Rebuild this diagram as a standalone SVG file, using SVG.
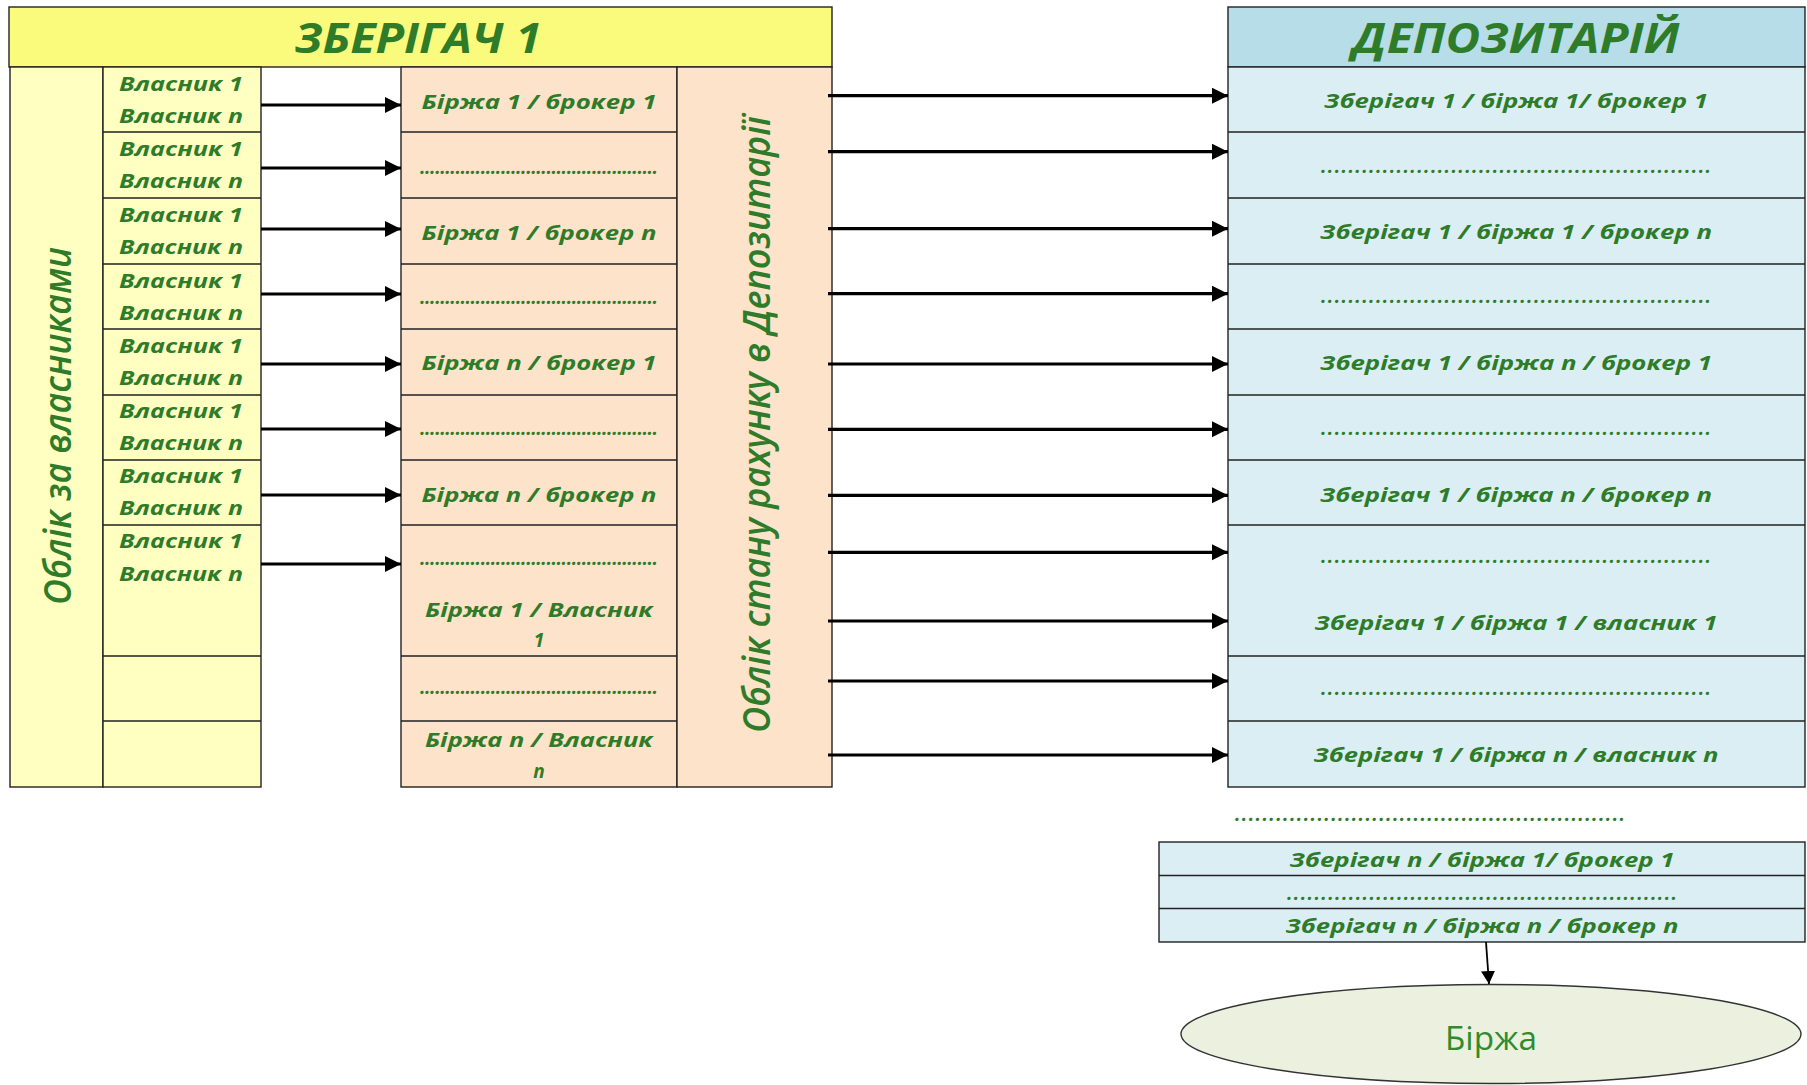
<svg xmlns="http://www.w3.org/2000/svg" width="1807" height="1085" viewBox="0 0 1807 1085">
<style>
.b{stroke:#222;stroke-width:1.4}
.t{font-family:"Open Sans","DejaVu Sans",sans-serif;font-style:italic;font-weight:bold;fill:#2E7B2A}
.c{font-size:19px}
.m{text-anchor:middle}
.h{font-size:42px}
.v{font-size:38px;font-weight:600}
.y1{fill:#FAFA7D}
.y2{fill:#FFFFC1}
.p{fill:#FDE3C9}
.bh{fill:#B7DDE8}
.bl{fill:#DAEEF3}
.a{stroke:#000;stroke-width:3.2;fill:none}
</style>
<defs>
<marker id="ah" markerUnits="userSpaceOnUse" markerWidth="18" markerHeight="18" refX="16" refY="8" orient="auto">
<path d="M0,0 L16,8 L0,16 Z" fill="#000"/>
</marker>
<marker id="ah2" markerUnits="userSpaceOnUse" markerWidth="15" markerHeight="15" refX="13" refY="7" orient="auto">
<path d="M0,0 L13,7 L0,14 Z" fill="#000"/>
</marker>
</defs>
<rect width="1807" height="1085" fill="#fff"/>

<g id="zberigach-header">
<rect class="y1 b" x="9" y="7" width="823" height="60"/>
<text class="t h m" x="418" y="53" textLength="247" lengthAdjust="spacingAndGlyphs">ЗБЕРІГАЧ 1</text>
</g>

<g id="oblik-vlasnyky">
<rect class="y2 b" x="10" y="67" width="93" height="720"/>
<text class="t v m" transform="translate(71,426) rotate(-90)" textLength="358" lengthAdjust="spacingAndGlyphs">Облік за власниками</text>
</g>

<g id="vlasnyky">
<rect class="y2 b" x="103" y="67" width="158" height="720"/>
<path class="b" d="M103,132H261M103,198H261M103,264H261M103,329H261M103,395H261M103,460H261M103,525H261M103,656H261M103,721H261"/>
<g class="t c">
<text x="119" y="91" textLength="124" lengthAdjust="spacingAndGlyphs">Власник 1</text>
<text x="119" y="123" textLength="124" lengthAdjust="spacingAndGlyphs">Власник n</text>
<text x="119" y="156" textLength="124" lengthAdjust="spacingAndGlyphs">Власник 1</text>
<text x="119" y="188" textLength="124" lengthAdjust="spacingAndGlyphs">Власник n</text>
<text x="119" y="222" textLength="124" lengthAdjust="spacingAndGlyphs">Власник 1</text>
<text x="119" y="254" textLength="124" lengthAdjust="spacingAndGlyphs">Власник n</text>
<text x="119" y="288" textLength="124" lengthAdjust="spacingAndGlyphs">Власник 1</text>
<text x="119" y="320" textLength="124" lengthAdjust="spacingAndGlyphs">Власник n</text>
<text x="119" y="353" textLength="124" lengthAdjust="spacingAndGlyphs">Власник 1</text>
<text x="119" y="385" textLength="124" lengthAdjust="spacingAndGlyphs">Власник n</text>
<text x="119" y="418" textLength="124" lengthAdjust="spacingAndGlyphs">Власник 1</text>
<text x="119" y="450" textLength="124" lengthAdjust="spacingAndGlyphs">Власник n</text>
<text x="119" y="483" textLength="124" lengthAdjust="spacingAndGlyphs">Власник 1</text>
<text x="119" y="515" textLength="124" lengthAdjust="spacingAndGlyphs">Власник n</text>
<text x="119" y="548" textLength="124" lengthAdjust="spacingAndGlyphs">Власник 1</text>
<text x="119" y="581" textLength="124" lengthAdjust="spacingAndGlyphs">Власник n</text>
</g>
</g>

<g id="birzha-broker">
<rect class="p b" x="401" y="67" width="276" height="720"/>
<path class="b" d="M401,132H677M401,198H677M401,264H677M401,329H677M401,395H677M401,460H677M401,525H677M401,656H677M401,721H677"/>
<g class="t c m">
<text x="539" y="109" textLength="235" lengthAdjust="spacingAndGlyphs">Біржа 1 / брокер 1</text>
<text x="539" y="174" textLength="238" lengthAdjust="spacing">...............................................</text>
<text x="539" y="240" textLength="235" lengthAdjust="spacingAndGlyphs">Біржа 1 / брокер n</text>
<text x="539" y="304" textLength="238" lengthAdjust="spacing">...............................................</text>
<text x="539" y="370" textLength="235" lengthAdjust="spacingAndGlyphs">Біржа n / брокер 1</text>
<text x="539" y="435" textLength="238" lengthAdjust="spacing">...............................................</text>
<text x="539" y="502" textLength="235" lengthAdjust="spacingAndGlyphs">Біржа n / брокер n</text>
<text x="539" y="565" textLength="238" lengthAdjust="spacing">...............................................</text>
<text x="539" y="617" textLength="228" lengthAdjust="spacingAndGlyphs">Біржа 1 / Власник</text>
<text x="539" y="647">1</text>
<text x="539" y="694" textLength="238" lengthAdjust="spacing">...............................................</text>
<text x="539" y="747" textLength="228" lengthAdjust="spacingAndGlyphs">Біржа n / Власник</text>
<text x="539" y="778">n</text>
</g>
</g>

<g id="oblik-stanu">
<rect class="p b" x="677" y="67" width="155" height="720"/>
<text class="t v m" transform="translate(770,424.5) rotate(-90)" textLength="617" lengthAdjust="spacingAndGlyphs">Облік стану рахунку в Депозитарії</text>
</g>

<g id="depozytarii">
<rect class="bh b" x="1228" y="7" width="577" height="60"/>
<text class="t h m" x="1516" y="53" textLength="327" lengthAdjust="spacingAndGlyphs">ДЕПОЗИТАРІЙ</text>
<rect class="bl b" x="1228" y="67" width="577" height="720"/>
<path class="b" d="M1228,132H1805M1228,198H1805M1228,264H1805M1228,329H1805M1228,395H1805M1228,460H1805M1228,525H1805M1228,656H1805M1228,721H1805"/>
<g class="t c m">
<text x="1516" y="108" textLength="384" lengthAdjust="spacingAndGlyphs">Зберігач 1 / біржа 1/ брокер 1</text>
<text x="1516" y="173" textLength="390" lengthAdjust="spacing">.........................................................</text>
<text x="1516" y="239" textLength="392" lengthAdjust="spacingAndGlyphs">Зберігач 1 / біржа 1 / брокер n</text>
<text x="1516" y="303" textLength="390" lengthAdjust="spacing">.........................................................</text>
<text x="1516" y="370" textLength="392" lengthAdjust="spacingAndGlyphs">Зберігач 1 / біржа n / брокер 1</text>
<text x="1516" y="435" textLength="390" lengthAdjust="spacing">.........................................................</text>
<text x="1516" y="502" textLength="392" lengthAdjust="spacingAndGlyphs">Зберігач 1 / біржа n / брокер n</text>
<text x="1516" y="563" textLength="390" lengthAdjust="spacing">.........................................................</text>
<text x="1516" y="630" textLength="403" lengthAdjust="spacingAndGlyphs">Зберігач 1 / біржа 1 / власник 1</text>
<text x="1516" y="695" textLength="390" lengthAdjust="spacing">.........................................................</text>
<text x="1516" y="762" textLength="405" lengthAdjust="spacingAndGlyphs">Зберігач 1 / біржа n / власник n</text>
</g>
</g>

<g id="dots-between">
<text class="t c m" x="1430" y="821" textLength="390" lengthAdjust="spacing">.........................................................</text>
</g>

<g id="zberigach-n">
<rect class="bl b" x="1159" y="842" width="646" height="100"/>
<path class="b" d="M1159,875.5H1805M1159,908.5H1805"/>
<g class="t c m">
<text x="1482" y="867" textLength="385" lengthAdjust="spacingAndGlyphs">Зберігач n / біржа 1/ брокер 1</text>
<text x="1482" y="900" textLength="390" lengthAdjust="spacing">.........................................................</text>
<text x="1482" y="933" textLength="393" lengthAdjust="spacingAndGlyphs">Зберігач n / біржа n / брокер n</text>
</g>
</g>

<g id="birzha">
<ellipse cx="1491" cy="1034" rx="310" ry="49.5" fill="#EBF1DE" stroke="#333" stroke-width="1.4"/>
<text x="1491" y="1050" text-anchor="middle" font-family="Open Sans, DejaVu Sans, sans-serif" font-size="32" fill="#2E8B2E" textLength="92" lengthAdjust="spacingAndGlyphs">Біржа</text>
</g>

<g id="connectors">
<g class="a" marker-end="url(#ah)">
<line x1="261" y1="105" x2="401" y2="105"/>
<line x1="261" y1="168" x2="401" y2="168"/>
<line x1="261" y1="229" x2="401" y2="229"/>
<line x1="261" y1="294" x2="401" y2="294"/>
<line x1="261" y1="364" x2="401" y2="364"/>
<line x1="261" y1="429" x2="401" y2="429"/>
<line x1="261" y1="495" x2="401" y2="495"/>
<line x1="261" y1="564" x2="401" y2="564"/>
<line x1="828" y1="95.7" x2="1228" y2="95.7"/>
<line x1="828" y1="151.7" x2="1228" y2="151.7"/>
<line x1="828" y1="228.7" x2="1228" y2="228.7"/>
<line x1="828" y1="293.7" x2="1228" y2="293.7"/>
<line x1="828" y1="364" x2="1228" y2="364"/>
<line x1="828" y1="429.3" x2="1228" y2="429.3"/>
<line x1="828" y1="495.3" x2="1228" y2="495.3"/>
<line x1="828" y1="552.3" x2="1228" y2="552.3"/>
<line x1="828" y1="621" x2="1228" y2="621"/>
<line x1="828" y1="681" x2="1228" y2="681"/>
<line x1="828" y1="755" x2="1228" y2="755"/>
</g>
<line x1="1486" y1="942" x2="1489" y2="984" stroke="#000" stroke-width="1.8" marker-end="url(#ah2)"/>
</g>
</svg>
